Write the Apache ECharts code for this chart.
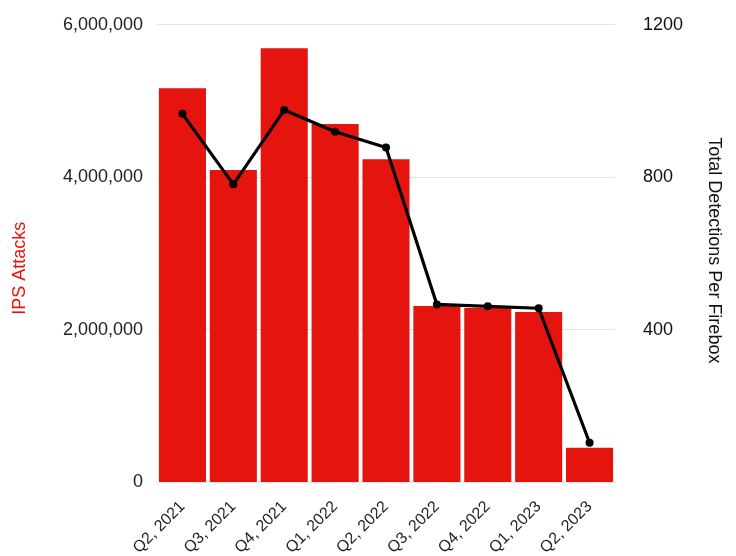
<!DOCTYPE html>
<html>
<head>
<meta charset="utf-8">
<script src="https://cdn.jsdelivr.net/npm/echarts@6/dist/echarts.min.js"></script>
<style>
  html, body { margin: 0; padding: 0; background: #fff; }
  #chart { width: 736px; height: 556px; }
</style>
</head>
<body>
<div id="chart"></div>
<script>
// Quarterly IPS attacks (bars, left axis) and detections per Firebox (line, right axis)
const quarters = ['Q2, 2021', 'Q3, 2021', 'Q4, 2021', 'Q1, 2022', 'Q2, 2022',
                  'Q3, 2022', 'Q4, 2022', 'Q1, 2023', 'Q2, 2023'];
const ipsAttacks = [5165000, 4094000, 5690000, 4697000, 4234000,
                    2309000, 2283000, 2230000, 450000];
const detectionsPerFirebox = [966, 781, 976, 919, 878, 466, 461, 456, 103];
const leftTicks = [0, 2000000, 4000000, 6000000];
const rightTicks = [0, 400, 800, 1200];

const font = 'Liberation Sans, Arial, Helvetica, sans-serif';

const chart = echarts.init(document.getElementById('chart'));
chart.setOption({
  animation: false,
  grid: { left: 157, right: 121, top: 24.7, bottom: 74, outerBoundsMode: 'none' },
  xAxis: {
    type: 'category',
    data: quarters,
    axisLine: { show: true, lineStyle: { color: '#e4e4e4', width: 1 } },
    axisTick: { show: false },
    axisLabel: {
      rotate: 45,
      interval: 0,
      margin: 22,
      fontSize: 16,
      fontFamily: font,
      color: '#222'
    }
  },
  yAxis: [
    {
      type: 'value',
      min: leftTicks[0],
      max: leftTicks[leftTicks.length - 1],
      interval: leftTicks[1] - leftTicks[0],
      name: 'IPS Attacks',
      nameLocation: 'middle',
      nameGap: 128,
      nameRotate: 90,
      nameTextStyle: { color: '#e6140f', fontSize: 18, fontFamily: font, padding: [0, 30, 0, 0] },
      axisLine: { show: false },
      axisTick: { show: false },
      axisLabel: {
        margin: 14,
        fontSize: 18,
        fontFamily: font,
        color: '#222',
        formatter: v => v.toLocaleString('en-US')
      },
      splitLine: { show: true, lineStyle: { color: '#e4e4e4', width: 1 } }
    },
    {
      type: 'value',
      min: rightTicks[0],
      max: rightTicks[rightTicks.length - 1],
      interval: rightTicks[1] - rightTicks[0],
      name: 'Total Detections Per Firebox',
      nameLocation: 'middle',
      nameGap: 90,
      nameRotate: -90,
      nameTextStyle: { color: '#111', fontSize: 18, fontFamily: font, padding: [0, 6, 0, 0] },
      axisLine: { show: false },
      axisTick: { show: false },
      axisLabel: {
        margin: 28,
        fontSize: 18,
        fontFamily: font,
        color: '#111',
        showMinLabel: false,
        formatter: v => String(v)
      },
      splitLine: { show: false }
    }
  ],
  series: [
    {
      name: 'IPS Attacks',
      type: 'bar',
      yAxisIndex: 0,
      data: ipsAttacks,
      barCategoryGap: '7.5%',
      itemStyle: { color: '#e6140f' }
    },
    {
      name: 'Total Detections Per Firebox',
      type: 'line',
      yAxisIndex: 1,
      data: detectionsPerFirebox,
      symbol: 'circle',
      symbolSize: 8,
      lineStyle: { color: '#000', width: 3.2 },
      itemStyle: { color: '#000' }
    }
  ]
});
</script>
</body>
</html>
